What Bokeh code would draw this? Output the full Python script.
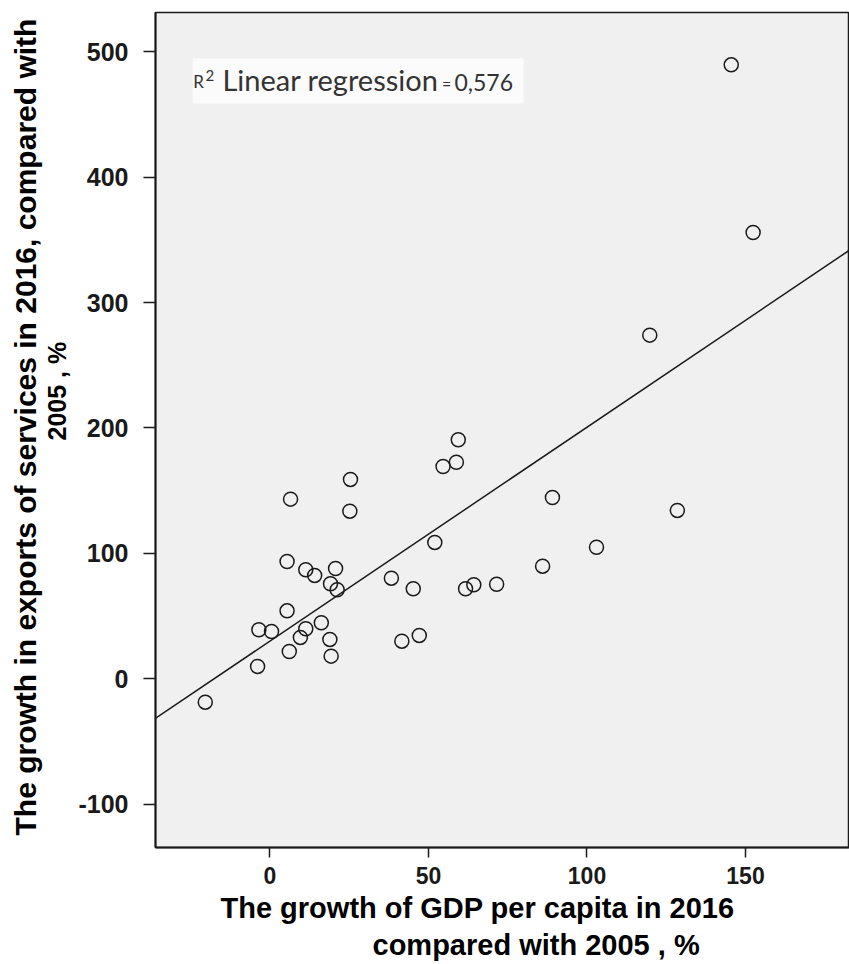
import numpy as np
from bokeh.plotting import figure
from bokeh.models import Range1d, Title, Label, BoxAnnotation, Slope, FixedTicker
from bokeh.embed import file_html
from bokeh.resources import INLINE

# Data
gdp_growth = [145.5, 152.4, 119.8, 128.5, 59.4, 58.8, 54.6, 25.4, 6.5, 25.2,
              89.1, 52.0, 103.0, 5.4, 11.3, 14.1, 20.7, 19.1, 21.2, 38.3,
              45.2, 86.0, 61.7, 64.3, 71.5, 5.4, -3.5, 0.5, 11.3, 9.6,
              16.2, 18.9, 6.1, 19.3, 41.6, 47.1, -3.9, -20.4]
exports_growth = [489.4, 355.8, 274.0, 134.3, 190.6, 172.7, 169.3, 159.0, 143.3, 133.7,
                  144.6, 108.8, 105.0, 93.6, 87.0, 82.5, 88.0, 75.9, 71.1, 80.3,
                  71.9, 89.9, 71.9, 75.1, 75.5, 54.3, 39.2, 37.8, 40.0, 33.1,
                  44.8, 31.5, 21.9, 18.2, 30.1, 34.7, 10.0, -18.5]
x_ticks = [0, 50, 100, 150]
y_ticks = [-100, 0, 100, 200, 300, 400, 500]
y_tick_labels = ["-100", "0", "100", "200", "300", "400", "500"]

x_title_1 = "The growth of GDP per capita in 2016"
x_title_2 = "compared with 2005 , %"
y_title_1 = "The growth in exports of services in 2016, compared with"
y_title_2 = "2005 , %"

slope, intercept = np.polyfit(gdp_growth, exports_growth, 1)

p = figure(width=849, height=964, output_backend="svg", toolbar_location=None,
           x_range=Range1d(-36.1, 182.8), y_range=Range1d(-134.3, 531.1),
           min_border_left=155, min_border_right=0, min_border_top=12, min_border_bottom=117)

p.background_fill_color = "#f0f0f0"
p.border_fill_color = "white"
p.outline_line_color = "#1a1a1a"
p.outline_line_width = 1.5
p.xgrid.visible = False
p.ygrid.visible = False

for ax in (p.xaxis[0], p.yaxis[0]):
    ax.axis_line_color = "#1a1a1a"
    ax.axis_line_width = 2
    ax.major_tick_line_color = "#1a1a1a"
    ax.major_tick_line_width = 1.5
    ax.major_tick_in = 0
    ax.minor_tick_line_color = None
    ax.major_label_text_color = "#1a1a1a"
    ax.major_label_text_font = "Liberation Sans"
    ax.major_label_text_font_style = "bold"

p.xaxis.ticker = FixedTicker(ticks=x_ticks)
p.xaxis.major_tick_out = 10
p.xaxis.major_label_standoff = 9
p.xaxis.major_label_text_font_size = "23px"

p.yaxis.ticker = FixedTicker(ticks=y_ticks)
p.yaxis.major_label_overrides = dict(zip(y_ticks, y_tick_labels))
p.yaxis.major_tick_out = 12
p.yaxis.major_label_standoff = 15
p.yaxis.major_label_text_font_size = "25px"

title_font = dict(text_font="Liberation Sans", text_font_style="bold", text_color="black")

p.add_layout(Title(text=x_title_1, align="left", offset=65, standoff=6,
                   text_font_size="29px", **title_font), "below")
p.add_layout(Title(text=x_title_2, align="left", offset=217, standoff=0,
                   text_font_size="29px", **title_font), "below")

p.add_layout(Title(text=y_title_2, align="left", offset=407, standoff=9.4,
                   text_font_size="25px", **title_font), "left")
p.add_layout(Title(text=y_title_1, align="left", offset=12, standoff=-11.4,
                   text_font_size="30px", **title_font), "left")

# R^2 annotation
p.add_layout(BoxAnnotation(left=-24.4, right=80.0, top=494.7, bottom=458.6,
                           fill_color="#fbfbfb", fill_alpha=1.0, line_color=None))
lab = dict(text_font="Lato", text_color="#333333", text_baseline="middle")
p.add_layout(Label(x=-24.2, y=476.5, text="R", text_font_size="17px", **lab))
p.add_layout(Label(x=-20.3, y=480.5, text="2", text_font_size="15px", **lab))
p.add_layout(Label(x=-15.0, y=477.8, text="Linear regression", text_font_size="29px", **lab))
p.add_layout(Label(x=54.3, y=474.2, text="=", text_font_size="16px", **lab))
p.add_layout(Label(x=58.2, y=475.6, text="0,576", text_font_size="23px", **lab))

p.add_layout(Slope(gradient=slope, y_intercept=intercept, line_color="#1a1a1a", line_width=1.5))

p.scatter(gdp_growth, exports_growth, marker="circle", size=14, fill_color=None,
          line_color="#1a1a1a", line_width=1.5)

open("out.html", "w").write(file_html(p, INLINE))
